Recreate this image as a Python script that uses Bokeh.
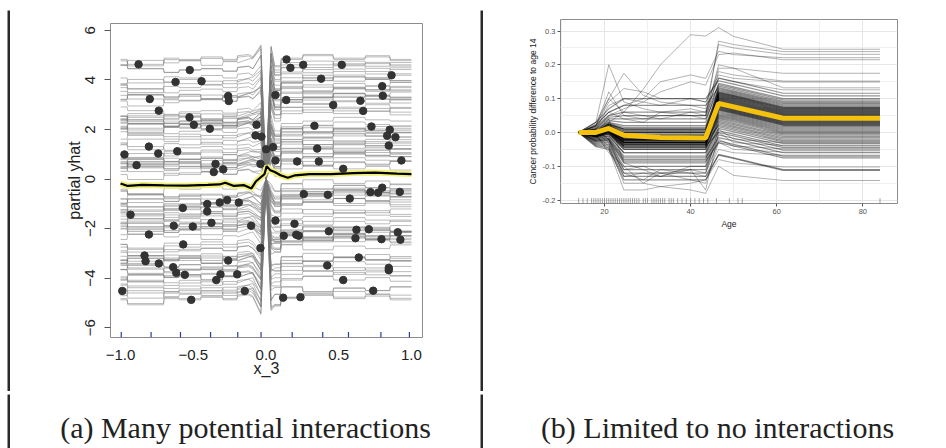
import numpy as np
from bokeh.plotting import figure
from bokeh.layouts import column, row
from bokeh.models import Range1d, FixedTicker
from bokeh.embed import file_html
from bokeh.resources import INLINE
from bokeh.core.properties import value
from bokeh.core.validation import silence
from bokeh.core.validation.warnings import MISSING_RENDERERS

silence(MISSING_RENDERERS, True)

# ---------------- panel (a): ICE of x_3 (many interactions) ----------------
x3_obs = [-0.876, -0.524, -0.622, -0.443, -0.799, -0.260, -0.256, -0.737, -0.526, 0.141,
          0.168, 0.256, 0.521, 0.379, 0.863, 0.799, 0.065, 0.139, 0.462, 0.649,
          0.803, 0.668, -0.496, -0.386, -0.065, -0.072, -0.031, 0.001, 0.049, 0.333,
          0.725, 0.851, 0.833, 0.890, 0.844, 0.352, -0.973, -0.805, -0.741, -0.610,
          -0.890, -0.347, -0.359, -0.294, -0.038, 0.065, 0.214, 0.363, 0.531, 0.931,
          0.260, 0.425, 0.576, 0.718, 0.771, 0.799, 0.920, -0.931, -0.572, -0.404,
          -0.404, -0.318, -0.267, -0.187, -0.375, -0.634, -0.503, -0.102, -0.805, 0.065,
          0.122, 0.196, 0.208, 0.225, 0.432, 0.622, 0.707, 0.615, 0.794, 0.906,
          0.924, -0.569, -0.038, -0.835, -0.828, -0.737, -0.638, -0.260, 0.421, 0.638,
          0.844, -0.617, -0.558, -0.313, -0.198, -0.342, 0.531, 0.844, -0.988, -0.514,
          -0.146, 0.118, 0.237, 0.737]
yhat_obs = [4.63, 4.40, 3.92, 3.95, 3.23, 3.35, 3.15, 2.76, 2.49, 4.83,
            4.49, 4.61, 4.61, 4.05, 4.19, 3.75, 3.39, 3.19, 2.99, 3.16,
            3.36, 2.75, 2.19, 2.03, 2.19, 1.76, 1.71, 1.20, 1.29, 2.15,
            2.12, 1.99, 1.75, 1.69, 1.35, 1.23, 0.99, 1.31, 1.03, 1.12,
            0.56, 0.61, 0.28, 0.39, 0.61, 0.75, 0.71, 0.71, 0.41, 0.75,
            -0.61, -0.64, -0.79, -0.53, -0.55, -0.35, -0.52, -1.44, -1.17, -1.01,
            -1.31, -0.95, -0.85, -0.95, -1.77, -1.89, -1.92, -1.89, -2.24, -1.68,
            -2.29, -1.81, -2.25, -2.29, -2.11, -2.05, -2.03, -2.39, -2.43, -2.15,
            -2.45, -2.64, -2.79, -3.09, -3.32, -3.41, -3.56, -3.29, -3.49, -3.17,
            -3.59, -3.79, -3.87, -3.85, -3.85, -4.08, -4.08, -3.68, -4.52, -4.88,
            -4.52, -4.79, -4.77, -4.51]

# step profile of the fitted curves (knots and offsets)
knots_left = [-1.0, -0.955, -0.95, -0.705, -0.70, -0.6, -0.595, -0.45, -0.445,
              -0.3, -0.295, -0.2, -0.195, -0.12, -0.09]
knots_cross = [-0.035, 0.035]
knots_right = [0.06, 0.1, 0.105, 0.25, 0.255, 0.46, 0.465, 0.68, 0.685, 0.85, 0.855, 1.0]
steps_left = [
    [0.0, 0.0, -0.2, -0.2, 0.05, 0.05, 0.0, 0.0, 0.1, 0.1, 0.0, 0.0, 0.15, 0.2, 0.1],
    [0.15, 0.15, 0.0, 0.0, -0.15, -0.15, -0.05, -0.05, 0.0, 0.0, -0.1, -0.1, 0.05, 0.1, 0.0],
    [-0.1, -0.1, 0.1, 0.1, 0.0, 0.0, 0.1, 0.1, -0.1, -0.1, 0.05, 0.05, 0.0, 0.15, 0.2],
]
steps_right = [
    [-0.3, -0.3, 0.0, 0.0, 0.15, 0.15, 0.0, 0.0, 0.1, 0.1, -0.05, -0.05],
    [-0.2, -0.2, 0.1, 0.1, -0.1, -0.1, 0.05, 0.05, -0.05, -0.05, 0.1, 0.1],
    [-0.4, -0.4, -0.1, -0.1, 0.0, 0.0, 0.15, 0.15, 0.05, 0.05, 0.0, 0.0],
]
cross_gain = [1.12, 1.1]

pdp_a_x = [-1.0, -0.95, -0.85, -0.7, -0.55, -0.4, -0.32, -0.28, -0.22, -0.15, -0.1,
           -0.07, -0.04, -0.01, 0.005, 0.03, 0.06, 0.1, 0.15, 0.2, 0.3, 0.45, 0.6,
           0.75, 0.9, 1.0]
pdp_a_y = [-0.18, -0.28, -0.24, -0.26, -0.27, -0.24, -0.22, -0.15, -0.28, -0.25, -0.38,
           -0.1, 0.05, 0.2, 0.52, 0.35, 0.28, 0.15, 0.05, 0.15, 0.2, 0.2, 0.24,
           0.26, 0.22, 0.2]
rug_a = [-0.995, -0.79, -0.588, -0.381, -0.194, -0.034, 0.18, 0.39, 0.567, 0.79, 0.986]
ticks_a_x = [-1.0, -0.5, 0.0, 0.5, 1.0]
labels_a_x = ["\u22121.0", "\u22120.5", "0.0", "0.5", "1.0"]
ticks_a_y = [-6, -4, -2, 0, 2, 4, 6]
labels_a_y = ["\u22126", "\u22124", "\u22122", "0", "2", "4", "6"]

# ---------------- panel (b): ICE of Age (limited interactions) ----------------
ages = [14, 18, 21, 24.5, 29, 33, 40, 43.5, 46.5, 50, 61.5, 84]
bulk_early = [0.06, 0.1, 0.03, 0.05, -0.02, 0.08, 0.01, 0.04, -0.03,
              0.02, -0.01, 0.0, -0.03, 0.015, -0.02, -0.005, -0.025, 0.01, -0.015,
              -0.035, 0.005, -0.02, -0.01, -0.03, 0.0, -0.02, -0.04, 0.01, -0.015,
              -0.025, -0.005, -0.03, -0.02, 0.0, -0.035, -0.01, -0.02, -0.045, -0.015,
              -0.025, 0.005, -0.03, -0.01, -0.02, -0.04, -0.025, -0.015,
              -0.03, -0.05, -0.02, -0.04, -0.06, -0.01, -0.035, -0.07, -0.025, -0.05,
              -0.08, -0.045, -0.03, -0.09, -0.06, -0.1, -0.04, -0.11, -0.075, -0.12,
              -0.085, -0.14, -0.13]
bulk_late = [0.116, 0.108, 0.1, 0.096, 0.092, 0.088, 0.085, 0.082, 0.079,
             0.076, 0.074, 0.073, 0.071, 0.07, 0.068, 0.067, 0.065, 0.064, 0.062,
             0.061, 0.059, 0.058, 0.056, 0.055, 0.053, 0.052, 0.05, 0.049, 0.047,
             0.046, 0.044, 0.043, 0.041, 0.04, 0.038, 0.037, 0.035, 0.034, 0.032,
             0.031, 0.029, 0.028, 0.026, 0.025, 0.023, 0.022, 0.02,
             0.017, 0.014, 0.011, 0.008, 0.005, 0.002, -0.001, -0.004, -0.008, -0.012,
             -0.016, -0.02, -0.024, -0.028, -0.033, -0.04, -0.045, -0.052, -0.06, -0.07,
             -0.075, -0.11, -0.112]
# shape of a typical curve relative to its plateau value (early) and final value (late)
early_weights = [0.0, 0.3, 0.5, 1.0, 1.0, 1.0, 1.0, 1.0]
early_bump21 = 0.02
late_rise = [0.045, 0.035, 0.0, 0.0]
extra_curves = [
    [0, 0.01, 0.03, 0.06, 0.128, 0.2, 0.289, 0.285, 0.31, 0.284, 0.246, 0.246],
    [0, 0.03, 0.2, 0.09, 0.07, 0.06, 0.05, 0.05, 0.27, 0.26, 0.239, 0.239],
    [0, 0.02, 0.1, 0.175, 0.11, 0.09, 0.08, 0.07, 0.26, 0.25, 0.231, 0.231],
    [0, 0.02, 0.06, 0.08, 0.1, 0.15, 0.17, 0.16, 0.24, 0.23, 0.221, 0.221],
    [0, 0.01, 0.05, 0.07, 0.09, 0.12, 0.15, 0.14, 0.23, 0.235, 0.215, 0.215],
    [0, 0.03, 0.1, 0.06, 0.05, 0.04, 0.06, 0.05, 0.2, 0.19, 0.175, 0.175],
    [0, 0.02, 0.12, 0.05, 0.04, 0.05, 0.05, 0.04, 0.18, 0.17, 0.152, 0.152],
    [0, 0.01, 0.08, 0.1, 0.09, 0.08, 0.1, 0.09, 0.17, 0.16, 0.149, 0.149],
    [0, 0.02, 0.06, 0.04, 0.03, 0.06, 0.07, 0.06, 0.19, 0.19, 0.132, 0.132],
    [0, 0.02, 0.09, 0.13, 0.12, 0.1, 0.1, 0.09, 0.16, 0.15, 0.126, 0.126],
    [0, -0.01, -0.05, -0.17, -0.17, -0.16, -0.17, -0.18, -0.1, -0.127, -0.142, -0.142],
    [0, -0.01, -0.04, -0.15, -0.15, -0.16, -0.15, -0.14, -0.08, -0.09, -0.102, -0.102],
    [0, 0.0, -0.03, -0.12, -0.14, -0.11, -0.12, -0.13, -0.05, -0.06, -0.067, -0.067],
    [0, 0.0, -0.02, -0.11, -0.1, -0.12, -0.14, -0.15, -0.03, -0.05, -0.058, -0.058],
    [0, 0.01, -0.02, -0.13, -0.12, -0.13, -0.1, -0.1, -0.02, -0.04, -0.048, -0.048],
    [0, -0.005, -0.06, -0.1, -0.15, -0.12, -0.11, -0.17, 0.0, -0.03, -0.038, -0.038],
    [0, 0.0, 0.04, -0.09, -0.11, -0.13, -0.11, -0.12, 0.01, -0.02, -0.03, -0.03],
]
pdp_b_age = [14, 18, 21, 24.5, 33, 43.5, 46.5, 61.5, 84]
pdp_b_val = [0.0, 0.0, 0.012, -0.008, -0.015, -0.016, 0.086, 0.042, 0.042]
rug_b = [14, 15, 16, 17, 17.5, 18, 18.5, 19, 19.5, 20, 20.5, 21, 21.5, 22, 22.5, 23,
         23.5, 24, 24.5, 25, 25.5, 26, 26.5, 27, 27.5, 28, 29, 29.5, 30, 31, 31.5, 32,
         32.5, 33, 33.5, 34, 35, 35.5, 36, 37, 38, 39, 40, 41, 42, 43, 44, 46, 49, 51,
         52, 84]
ticks_b_x = [20, 40, 60, 80]
minor_b_x = [10, 30, 50, 70, 90]
ticks_b_y = [-0.2, -0.1, 0.0, 0.1, 0.2, 0.3]
labels_b_y = ["-0.2", "-0.1", "0.0", "0.1", "0.2", "0.3"]
minor_b_y = [-0.15, -0.05, 0.05, 0.15, 0.25]

captions = ["(a) Many potential interactions", "(b) Limited to no interactions"]

# ---------------- styling constants ----------------
BORDER = "#2a2a2a"
SANS = "Liberation Sans"
SERIF = "Liberation Serif"


def bar(w, h, color=BORDER):
    f = figure(width=w, height=h, output_backend="svg", toolbar_location=None,
               x_axis_type=None, y_axis_type=None, min_border=0,
               outline_line_color=None, background_fill_color=color,
               border_fill_color=color)
    f.frame_align = False
    return f


# ---------------- figure (a) ----------------
xa0, xa1, ya0, ya1 = -1.069, 1.076, -6.4, 6.28
p1 = figure(width=470, height=381, output_backend="svg", toolbar_location=None,
            x_range=Range1d(xa0, xa1), y_range=Range1d(ya0, ya1),
            min_border_left=100, min_border_right=58, min_border_top=13,
            min_border_bottom=54)
p1.frame_align = False
p1.xgrid.visible = False
p1.ygrid.visible = False
p1.outline_line_color = "#8c8c8c"
p1.outline_line_width = 1

xs_a, ys_a = [], []
for i, (xo, yo) in enumerate(zip(x3_obs, yhat_obs)):
    wl = steps_left[i % 3]
    wr = steps_right[i % 3]
    if xo < 0:
        lev_l = yo - float(np.interp(xo, knots_left, wl))
        lev_r = -lev_l
    else:
        lev_r = yo - float(np.interp(xo, knots_right, wr))
        lev_l = -lev_r
    xs_a.append(knots_left + knots_cross + knots_right)
    ys_a.append([lev_l + w for w in wl]
                + [lev_l * cross_gain[0], lev_r * cross_gain[1]]
                + [lev_r + w for w in wr])

p1.multi_line(xs_a, ys_a, line_color="#7a7a7a", line_alpha=0.5, line_width=1)
p1.line(pdp_a_x, pdp_a_y, line_color="#f0f07a", line_width=6)
p1.line(pdp_a_x, pdp_a_y, line_color="#000000", line_width=2.2)
p1.scatter(x3_obs, yhat_obs, size=7.5, fill_color="#333333", line_color="#333333")
p1.segment(x0=rug_a, y0=ya0, x1=rug_a, y1=ya0 + 0.22, line_color="#2b3a9c",
           line_width=1.2)

p1.xaxis.ticker = FixedTicker(ticks=ticks_a_x)
p1.xaxis.major_label_overrides = dict(zip(ticks_a_x, labels_a_x))
p1.yaxis.ticker = FixedTicker(ticks=ticks_a_y)
p1.yaxis.major_label_overrides = dict(zip(ticks_a_y, labels_a_y))
p1.yaxis.major_label_orientation = "vertical"
for ax in (p1.xaxis, p1.yaxis):
    ax.axis_line_color = None
    ax.minor_tick_line_color = None
    ax.major_label_text_font = SANS
    ax.major_label_text_font_size = "15px"
    ax.major_label_text_color = "#222222"
    ax.axis_label_text_font = SANS
    ax.axis_label_text_font_size = "16px"
    ax.axis_label_text_font_style = "normal"
    ax.axis_label_text_color = "#222222"
p1.xaxis.major_tick_line_color = None
p1.xaxis.major_label_standoff = 6
p1.xaxis.axis_label = "x_3"
p1.xaxis.axis_label_standoff = -3
p1.yaxis.major_tick_line_color = "#555555"
p1.yaxis.major_tick_out = 6
p1.yaxis.major_tick_in = 0
p1.yaxis.major_label_standoff = 9
p1.yaxis.axis_label = "partial yhat"
p1.yaxis.axis_label_standoff = 0

# ---------------- figure (b) ----------------
xb0, xb1, yb0, yb1 = 9.78, 88.06, -0.21, 0.334
p2 = figure(width=463, height=381, output_backend="svg", toolbar_location=None,
            x_range=Range1d(xb0, xb1), y_range=Range1d(yb0, yb1),
            min_border_left=77, min_border_right=49, min_border_top=9,
            min_border_bottom=188)
p2.frame_align = False
p2.outline_line_color = "#8c8c8c"
p2.outline_line_width = 1

xs_b, ys_b = [], []
for e, l in zip(bulk_early, bulk_late):
    vals = [w * e for w in early_weights]
    vals[2] += early_bump21
    vals += [l + r for r in late_rise]
    xs_b.append(ages)
    ys_b.append(vals)

p2.multi_line(xs_b, ys_b, line_color="#000000", line_alpha=0.42, line_width=1.2)
p2.multi_line([ages] * len(extra_curves), extra_curves, line_color="#000000",
              line_alpha=0.3, line_width=1)
p2.line(pdp_b_age, pdp_b_val, line_color="#F4C20D", line_width=5)
p2.segment(x0=rug_b, y0=yb0, x1=rug_b, y1=yb0 + 0.016, line_color="#000000",
           line_alpha=0.45, line_width=0.8)

p2.xaxis.ticker = FixedTicker(ticks=ticks_b_x, minor_ticks=minor_b_x)
p2.yaxis.ticker = FixedTicker(ticks=ticks_b_y, minor_ticks=minor_b_y)
p2.yaxis.major_label_overrides = dict(zip(ticks_b_y, labels_b_y))
p2.xgrid.grid_line_color = "#e6e6e6"
p2.ygrid.grid_line_color = "#e6e6e6"
p2.xgrid.minor_grid_line_color = "#efefef"
p2.ygrid.minor_grid_line_color = "#efefef"
for ax in (p2.xaxis, p2.yaxis):
    ax.axis_line_color = None
    ax.minor_tick_line_color = None
    ax.major_tick_line_color = "#555555"
    ax.major_tick_out = 3
    ax.major_tick_in = 0
    ax.major_label_standoff = 1
    ax.major_label_text_font = SANS
    ax.major_label_text_font_size = "7.5px"
    ax.major_label_text_color = "#555555"
    ax.axis_label_text_font = SANS
    ax.axis_label_text_font_size = "8.5px"
    ax.axis_label_text_font_style = "normal"
    ax.axis_label_text_color = "#222222"
    ax.axis_label_standoff = 2
p2.xaxis.axis_label = "Age"
p2.yaxis.axis_label = "Cancer probability difference to age 14"

# ---------------- captions ----------------
def caption(w, h, txt, cx):
    f = figure(width=w, height=h, output_backend="svg", toolbar_location=None,
               x_axis_type=None, y_axis_type=None, min_border=0,
               x_range=Range1d(0, w), y_range=Range1d(0, h),
               outline_line_color=None, background_fill_color="white",
               border_fill_color="white")
    f.frame_align = False
    f.xgrid.visible = False
    f.ygrid.visible = False
    f.text(x=[cx], y=[21], text=[txt], text_font=value(SERIF),
           text_font_size="30px", text_color="#222222", text_align="center",
           text_baseline="middle")
    return f


cap_a = caption(470, 54, captions[0], 235)
cap_b = caption(463, 54, captions[1], 234)

table = column(
    bar(939, 3),
    row(bar(3, 381), p1, bar(3, 381), p2),
    bar(939, 3),
    row(bar(3, 54), cap_a, bar(3, 54), cap_b),
)
layout = column(
    bar(946, 7, "white"),
    row(bar(7, 441, "white"), table),
)

open("out.html", "w").write(file_html(layout, INLINE))
